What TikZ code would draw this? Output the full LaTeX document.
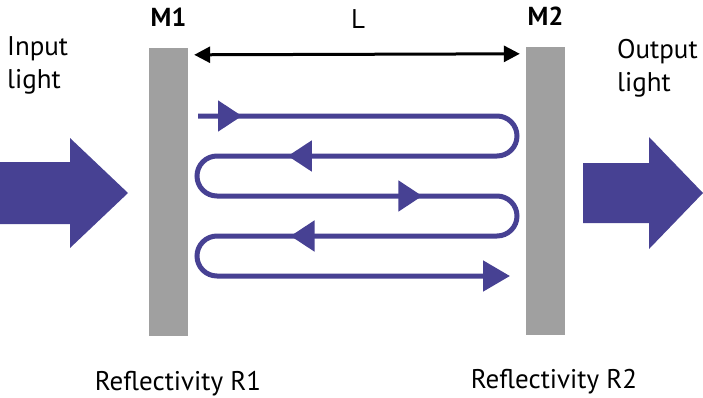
\documentclass[tikz,border=0pt]{standalone}
\usepackage{fontspec}
\setmainfont{PT Sans}
\usetikzlibrary{arrows.meta,positioning,decorations.markings}
\definecolor{beam}{HTML}{474193}
\definecolor{mirrorgray}{HTML}{A0A0A0}

\begin{document}
\begin{tikzpicture}[x=1pt, y=-1pt,
      mirror/.style={
        fill=mirrorgray, minimum width=39pt, minimum height=288pt, inner sep=0pt
      },
      mlabel/.style={font=\fontsize{26}{30}\selectfont\bfseries, inner sep=0pt},
      caption/.style={
        font=\fontsize{27}{33}\selectfont, inner sep=0pt, align=left
      },
      span/.style={{Triangle[length=16pt,width=16pt]}-{Triangle[length=16pt,width=16pt]},
        line width=3pt, draw=black},
      bounce/.style={
        draw=beam, line width=5pt, -{Triangle[length=27pt,width=30pt]},
        postaction={decorate},
        decoration={markings,
          mark=at position 44pt with {\arrow[beam]{Triangle[length=24pt,width=30pt]}},
          mark=at position 571pt with {\arrow[beam]{Triangle[length=24pt,width=30pt]}},
          mark=at position 910pt with {\arrow[beam]{Triangle[length=24pt,width=30pt]}},
          mark=at position 1254pt with {\arrow[beam]{Triangle[length=24pt,width=30pt]}}}
      }
    ]
    \useasboundingbox (0,0) rectangle (703,397);

    % mirrors
    \node[mirror] (m1) at (168.5,192) {};
    \node[mirror] (m2) at (545.5,191) {};
    \node[mlabel, anchor=base] (m1lab) at ([yshift=21pt]m1.north) {M1};
    \node[mlabel, anchor=base] (m2lab) at ([yshift=21pt]m2.north) {M2};
    \node[caption, anchor=base] (r1) at (178,390) {Reflectivity R1};
    \node[caption, anchor=base] (r2) at (554,388) {Reflectivity R2};

    % cavity length
    \draw[span] ([xshift=6pt,yshift=-7pt]m1.north east) -- ([xshift=-6pt,yshift=-7pt]m2.north west);
    \node[caption, anchor=base] (len) at (358,28) {L};

    % light in and out
    \fill[beam] (0,162) -- (70,162) -- (70,138) -- (128,193) -- (70,248)
      -- (70,224) -- (0,224) -- cycle;
    \fill[beam] (583,163) -- (649,163) -- (649,137) -- (703,193) -- (649,249)
      -- (649,223) -- (583,223) -- cycle;
    \node[caption, anchor=base west] (inlab) at (7,88) {Input\\light};
    \node[caption, anchor=base west] (outlab) at (617,91) {Output\\light};

    % round trips
    \draw[bounce] (198,116) -- (497,116)
      arc[start angle=-90, end angle=90, radius=20] -- (217,156)
      arc[start angle=-90, end angle=-270, radius=20] -- (497,196)
      arc[start angle=-90, end angle=90, radius=20] -- (217,236)
      arc[start angle=-90, end angle=-270, radius=20] -- (510,276);
  \end{tikzpicture}
\end{document}
